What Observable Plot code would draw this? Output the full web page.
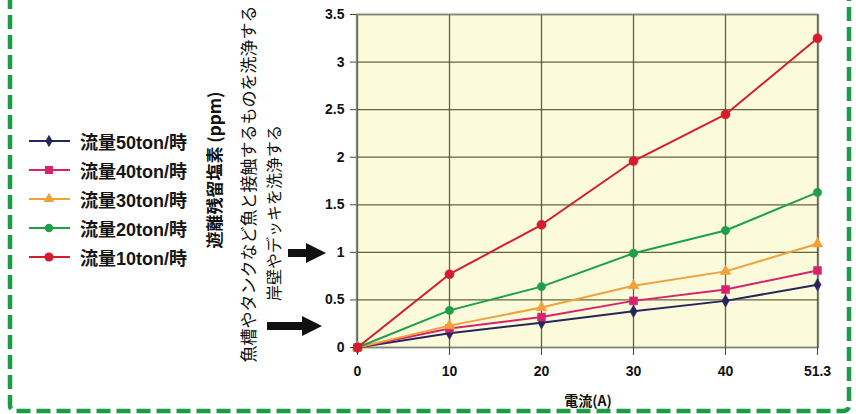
<!DOCTYPE html>
<html>
<head>
<meta charset="utf-8">
<script src="https://cdn.jsdelivr.net/npm/d3@7"></script>
<script src="https://cdn.jsdelivr.net/npm/@observablehq/plot@0.6"></script>
<style>
  html, body { margin: 0; padding: 0; background: #fff; }
  #wrap { position: relative; width: 856px; height: 414px; overflow: hidden;
    font-family: "Liberation Sans", Arial, "Noto Sans CJK JP", sans-serif; }
  #chart { position: absolute; left: 0; top: 0; }
  .rot { position: absolute; white-space: nowrap; transform: translate(-50%, -50%) rotate(-90deg);
    font-family: "Noto Sans CJK JP", sans-serif; color: #111; line-height: 1; }
  #legend { position: absolute; left: 26px; top: 126px; }
  .lrow { display: flex; align-items: center; height: 29px; }
  .lrow span { font-size: 18px; font-weight: bold; color: #151515; margin-left: 8px;
    font-family: "Liberation Sans", Arial, "Noto Sans CJK JP", sans-serif; }
  #xlabel { position: absolute; left: 588px; top: 400px; transform: translate(-50%, -50%);
    font-size: 14px; font-weight: bold; font-family: "Noto Sans CJK JP", sans-serif; color: #111; }
  #deco { position: absolute; left: 0; top: 0; pointer-events: none; }
</style>
</head>
<body>
<div id="wrap">
  <div id="chart"></div>
  <div id="legend"></div>
  <div class="rot" style="left:213px; top:170px; font-size:17px; font-weight:bold;">遊離残留塩素 (ppm)</div>
  <div class="rot" style="left:247px; top:184px; font-size:17px;">魚槽やタンクなど魚と接触するものを洗浄する</div>
  <div class="rot" style="left:273px; top:213px; font-size:16px;">岸壁やデッキを洗浄する</div>
  <div id="xlabel">電流(A)</div>
  <svg id="deco" width="856" height="414">
    <path d="M10,-5 V405 Q10,411 16,411 H843 Q849,411 849,405 V-5" fill="none" stroke="#1c9c46" stroke-width="4.5" stroke-dasharray="14 6"/>
    <path d="M288,249 H306 V243 L326,253 L306,263 V257 H288 Z" fill="#111"/>
    <path d="M267,322 H302 V316 L322,326 L302,336 V330 H267 Z" fill="#111"/>
  </svg>
</div>
<script>
const currents = ["0", "10", "20", "30", "40", "51.3"];
const series = ["流量50ton/時", "流量40ton/時", "流量30ton/時", "流量20ton/時", "流量10ton/時"];
const flow50 = [0, 0.15, 0.26, 0.38, 0.49, 0.66];
const flow40 = [0, 0.20, 0.32, 0.49, 0.61, 0.81];
const flow30 = [0, 0.23, 0.42, 0.65, 0.80, 1.09];
const flow20 = [0, 0.39, 0.64, 0.99, 1.23, 1.63];
const flow10 = [0, 0.77, 1.29, 1.96, 2.45, 3.25];
const yTicks = [0, 0.5, 1, 1.5, 2, 2.5, 3, 3.5];

const values = [flow50, flow40, flow30, flow20, flow10];
const colors = ["#26265c", "#d8236c", "#f2a03c", "#1f9f4a", "#d41c2e"];
const symbols = ["diamond", "square", "triangle", "circle", "circle"];
const radii = [3.8, 4.5, 4, 4.2, 4.6];

const table = series.flatMap((s, i) => values[i].map((v, j) => ({series: s, current: currents[j], value: v})));

const marks = [
  Plot.frame({fill: "#fbfbdc"}),
  Plot.gridX({stroke: "#4a4a20", strokeOpacity: 0.85, strokeWidth: 1.3}),
  Plot.gridY(yTicks, {stroke: "#4a4a20", strokeOpacity: 0.85, strokeWidth: 1.3}),
  Plot.frame({stroke: "#85857a", strokeWidth: 1.3}),
  Plot.axisY(yTicks, {tickSize: 6, tickPadding: 6, fontSize: 14, fontWeight: "bold", label: null, stroke: "#4a4a20", tickFormat: d => String(d)}),
  Plot.axisX({tickSize: 8, tickPadding: 11, fontSize: 14, fontWeight: "bold", label: null, stroke: "#4a4a20"})
];
series.forEach((s, i) => {
  const d = table.filter(r => r.series === s);
  marks.push(Plot.line(d, {x: "current", y: "value", stroke: colors[i], strokeWidth: 2}));
  marks.push(Plot.dot(d, {x: "current", y: "value", fill: colors[i], symbol: symbols[i], r: radii[i], stroke: colors[i], strokeWidth: 0.5}));
});

const plot = Plot.plot({
  width: 856, height: 414,
  marginLeft: 356, marginRight: 38, marginTop: 14, marginBottom: 67,
  style: {fontFamily: "'Liberation Sans', Arial, sans-serif", background: "transparent", color: "#111"},
  x: {type: "point", domain: currents, padding: 0},
  y: {domain: [0, 3.5]},
  marks
});
document.getElementById("chart").appendChild(plot);

// legend
const legend = d3.select("#legend");
const symMap = {diamond: d3.symbolDiamond, square: d3.symbolSquare, triangle: d3.symbolTriangle, circle: d3.symbolCircle};
series.forEach((s, i) => {
  const row = legend.append("div").attr("class", "lrow");
  const svg = row.append("svg").attr("width", 46).attr("height", 20);
  svg.append("line").attr("x1", 3).attr("x2", 44).attr("y1", 10).attr("y2", 10)
    .attr("stroke", colors[i]).attr("stroke-width", 2);
  svg.append("path").attr("transform", "translate(23,10)")
    .attr("d", d3.symbol(symMap[symbols[i]], Math.PI * radii[i] * radii[i])())
    .attr("fill", colors[i]);
  row.append("span").text(s);
});
</script>
</body>
</html>
